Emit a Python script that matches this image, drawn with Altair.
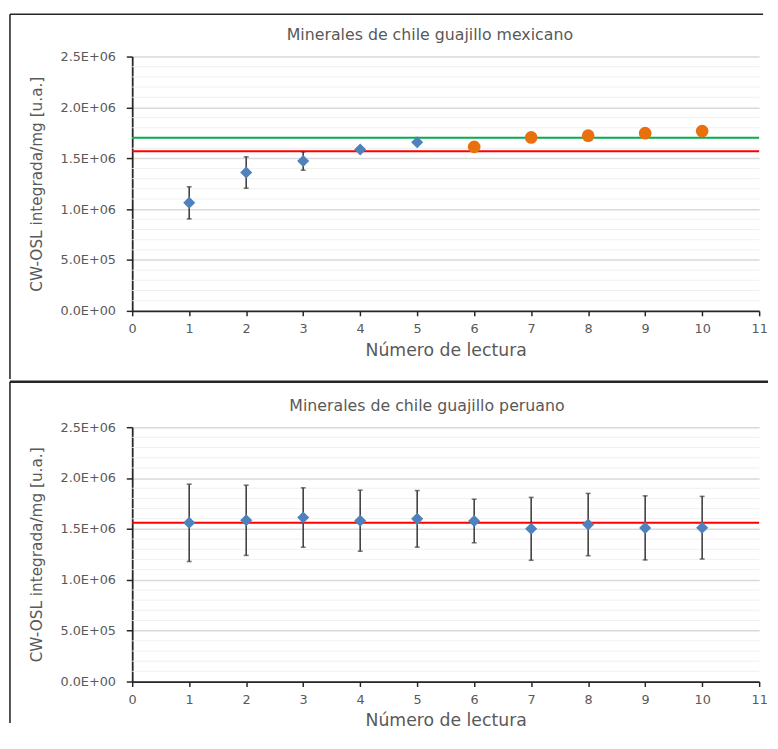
import altair as alt
import pandas as pd

# ---------------- data ----------------
x_ticks = list(range(0, 12))
y_ticks = [0, 500000, 1000000, 1500000, 2000000, 2500000]
y_tick_labels = ["0.0E+00", "5.0E+05", "1.0E+06", "1.5E+06", "2.0E+06", "2.5E+06"]
y_minor = [v * 100000 for v in range(1, 25) if v % 5 != 0]

# top panel: Mexican guajillo
mx_blue_x = [1, 2, 3, 4, 5]
mx_blue_y = [1.062e6, 1.360e6, 1.473e6, 1.586e6, 1.657e6]
mx_blue_err = [0.158e6, 0.154e6, 0.090e6, 0.0, 0.0]
mx_orange_x = [6, 7, 8, 9, 10]
mx_orange_y = [1.612e6, 1.705e6, 1.722e6, 1.747e6, 1.767e6]
mx_green = 1.702e6
mx_red = 1.570e6

# bottom panel: Peruvian guajillo
pe_x = [1, 2, 3, 4, 5, 6, 7, 8, 9, 10]
pe_y = [1.560e6, 1.585e6, 1.612e6, 1.581e6, 1.599e6, 1.578e6, 1.501e6, 1.543e6, 1.510e6, 1.512e6]
pe_err = [0.380e6, 0.345e6, 0.292e6, 0.300e6, 0.278e6, 0.214e6, 0.309e6, 0.306e6, 0.315e6, 0.308e6]
pe_red = 1.560e6

title_mx = "Minerales de chile guajillo mexicano"
title_pe = "Minerales de chile guajillo peruano"
x_title = "Número de lectura"
y_title = "CW-OSL integrada/mg [u.a.]"

# ---------------- styling ----------------
FONT = "DejaVu Sans"
TXT = "#595959"
W, H = 636, 258
BLUE = "#4f81bd"
ORANGE = "#e8700f"

label_expr = ""
for v, l in zip(y_ticks, y_tick_labels):
    label_expr += f"datum.value == {v} ? '{l}' : "
label_expr += "''"

x_scale = alt.Scale(domain=[0, 11], nice=False, zero=False)
y_scale = alt.Scale(domain=[0, 2500000], nice=False)

x_axis = alt.Axis(values=x_ticks, title=x_title, grid=False, format="d",
                  domainColor="#262626", domainWidth=1.8, tickColor="#262626",
                  tickWidth=1.5, tickSize=5, labelFont=FONT, labelFontSize=13,
                  labelColor=TXT, labelPadding=7, titleFont=FONT, titleFontSize=17.5,
                  titleFontWeight="normal", titleColor=TXT, titlePadding=6,
                  labelFlush=False)
y_axis = alt.Axis(values=y_ticks, title=y_title, labelExpr=label_expr, grid=True,
                  gridColor="#d9d9d9", gridWidth=1.5, domainColor="#262626",
                  domainWidth=1.8, tickColor="#262626", tickWidth=1.5, tickSize=6,
                  labelFont=FONT, labelFontSize=13, labelColor=TXT, labelPadding=11,
                  titleFont=FONT, titleFontSize=15.5, titleFontWeight="normal",
                  titleColor=TXT, titlePadding=16)


def X(field):
    return alt.X(field, type="quantitative", scale=x_scale, axis=x_axis)


def Y(field):
    return alt.Y(field, type="quantitative", scale=y_scale, axis=y_axis)


def one():
    return pd.DataFrame({"k": [0]})


def panel(title, title_dx, title_y, top_off, top_x2, bottom_ext, border_w, series, hlines):
    layers = []
    # minor gridlines
    layers.append(alt.Chart(pd.DataFrame({"y": y_minor})).mark_rule(
        color="#f0f0f0", strokeWidth=1).encode(y=Y("y")))
    # reference lines
    for val, col in hlines:
        layers.append(alt.Chart(pd.DataFrame({"y": [val]})).mark_rule(
            color=col, strokeWidth=2).encode(y=Y("y")))
    for xs, ys, errs, kind in series:
        df = pd.DataFrame({"x": xs, "y": ys, "e": errs})
        df["lo"] = df["y"] - df["e"]
        df["hi"] = df["y"] + df["e"]
        dfe = df[df["e"] > 0]
        if len(dfe):
            layers.append(alt.Chart(dfe).mark_rule(color="#404040", strokeWidth=1.6).encode(
                x=X("x"), y=Y("lo"), y2="hi"))
            for c in ["lo", "hi"]:
                layers.append(alt.Chart(dfe).mark_tick(
                    color="#404040", orient="horizontal", size=5, thickness=1.6).encode(
                    x=X("x"), y=Y(c)))
        if kind == "diamond":
            layers.append(alt.Chart(df).mark_point(
                shape="diamond", filled=True, size=150, color=BLUE, opacity=1).encode(
                x=X("x"), y=Y("y")))
        else:
            layers.append(alt.Chart(df).mark_circle(
                size=165, color=ORANGE, opacity=1).encode(x=X("x"), y=Y("y")))
    # title as text
    layers.append(alt.Chart(pd.DataFrame({"t": [title]})).mark_text(
        font=FONT, fontSize=16, color=TXT, align="center", baseline="alphabetic").encode(
        x=alt.value(W / 2 + title_dx), y=alt.value(title_y), text="t:N"))
    # panel border (top and left)
    layers.append(alt.Chart(one()).mark_rule(color="#262626", strokeWidth=border_w).encode(
        x=alt.value(-124), x2=alt.value(top_x2), y=alt.value(top_off)))
    layers.append(alt.Chart(one()).mark_rule(color="#1a1a1a", strokeWidth=1.5).encode(
        x=alt.value(-124), y=alt.value(top_off), y2=alt.value(bottom_ext)))
    return alt.layer(*layers).properties(width=W, height=H)


top = panel(title_mx, -16, -17, -43, 640, 327, 1.5,
            [(mx_blue_x, mx_blue_y, mx_blue_err, "diamond"),
             (mx_orange_x, mx_orange_y, [0.0] * 5, "circle")],
            [(mx_red, "#ff0000"), (mx_green, "#00b050")])
bottom = panel(title_pe, -19, -16, -46, 645, 300, 2.5,
               [(pe_x, pe_y, pe_err, "diamond")],
               [(pe_red, "#ff0000")])

chart = alt.vconcat(top, bottom, spacing=0).properties(
    padding=0, background="white"
).configure_view(stroke=None)

chart.save("out.html", embed_options={"renderer": "svg", "actions": False})
